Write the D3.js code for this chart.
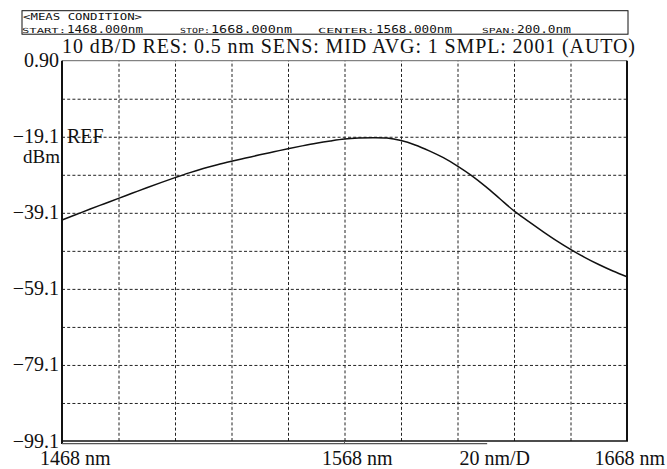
<!DOCTYPE html>
<html lang="en">
<head>
<meta charset="UTF-8">
<title>OSA trace</title>
<script src="https://d3js.org/d3.v7.min.js"></script>
<style>
  body { margin: 0; background: #fff; }
  svg { display: block; }
  .serif { font-family: "Liberation Serif", "Times New Roman", serif; fill: #111; }
  .mono { font-family: "DejaVu Sans Mono", monospace; fill: #111; }
  .grid line { stroke: #222; stroke-width: 1; stroke-dasharray: 3 2.2; }
  .grid path { display: none; }
</style>
</head>
<body>
<div class="canvas"></div>
<script>
  // wavelength (nm) and level (dBm)
  const wavelength = [1468, 1473, 1478, 1483, 1488, 1493, 1498, 1503, 1508, 1513,
    1518, 1523, 1528, 1533, 1538, 1543, 1548, 1553, 1558, 1563,
    1568, 1573, 1578, 1583, 1588, 1593, 1598, 1603, 1608, 1613,
    1618, 1623, 1628, 1633, 1638, 1643, 1648, 1653, 1658, 1663, 1668]
  const level = [-41.0, -39.55, -38.1, -36.7, -35.3, -33.9, -32.5, -31.15, -29.85, -28.6,
    -27.45, -26.45, -25.55, -24.7, -23.85, -23.05, -22.25, -21.5, -20.8, -20.2,
    -19.7, -19.45, -19.35, -19.45, -20.1, -21.25, -22.8, -24.6, -26.8, -29.3,
    -32.2, -35.4, -38.6, -41.3, -43.9, -46.4, -48.7, -50.8, -52.7, -54.4, -55.9]

  const xGrid = [1488, 1508, 1528, 1548, 1568, 1588, 1608, 1628, 1648]
  const yGrid = [-9.1, -19.1, -29.1, -39.1, -49.1, -59.1, -69.1, -79.1, -89.1]
  const yTickValues = [0.9, -19.1, -39.1, -59.1, -79.1, -99.1]
  const yTickLabels = ['0.90', '\u221219.1', '\u221239.1', '\u221259.1', '\u221279.1', '\u221299.1']
  const xLabels = [
    { v: 1468, text: '1468 nm', dx: -22, anchor: 'start' },
    { v: 1568, text: '1568 nm', dx: -22.5, anchor: 'start' },
    { v: 1628, text: '20 nm/D', dx: -54.5, anchor: 'start' },
    { v: 1668, text: '1668 nm', dx: 38, anchor: 'end' }
  ]
  const title = '10 dB/D  RES: 0.5 nm  SENS: MID  AVG: 1  SMPL: 2001 (AUTO)'
  const meas = [
    { label: 'START:', value: '1468.000nm', x: 22, lw: 44, vw: 76 },
    { label: 'STOP:', value: '1668.000nm', x: 180, lw: 30, vw: 81 },
    { label: 'CENTER:', value: '1568.000nm', x: 318, lw: 57, vw: 76 },
    { label: 'SPAN:', value: '200.0nm', x: 482, lw: 34, vw: 54 }
  ]

  const W = 667, H = 469
  const pLeft = 62, pRight = 627, pTop = 60.7, pBottom = 441

  const svg = d3.select('.canvas')
    .append('svg')
    .attr('width', W)
    .attr('height', H)

  const x = d3.scaleLinear().domain([1468, 1668]).range([pLeft, pRight])
  const y = d3.scaleLinear().domain([-99.1, 0.9]).range([pBottom, pTop])

  // header box
  svg.append('rect')
    .attr('x', 22).attr('y', 10.7)
    .attr('width', 606).attr('height', 23.5)
    .attr('fill', 'none').attr('stroke', '#111').attr('stroke-width', 1)

  svg.append('text').attr('class', 'mono')
    .attr('x', 23).attr('y', 19.5)
    .attr('font-size', 8)
    .attr('textLength', 119).attr('lengthAdjust', 'spacingAndGlyphs')
    .text('<MEAS CONDITION>')

  meas.forEach(m => {
    svg.append('text').attr('class', 'mono')
      .attr('x', m.x).attr('y', 33.3)
      .attr('font-size', 7)
      .attr('textLength', m.lw).attr('lengthAdjust', 'spacingAndGlyphs')
      .text(m.label)
    svg.append('text').attr('class', 'mono')
      .attr('x', m.x + m.lw + 1).attr('y', 33.3)
      .attr('font-size', 10.5)
      .attr('textLength', m.vw).attr('lengthAdjust', 'spacingAndGlyphs')
      .text(m.value)
  })

  // title line
  svg.append('text').attr('class', 'serif')
    .attr('x', 62).attr('y', 53.3)
    .attr('font-size', 20)
    .attr('textLength', 573).attr('lengthAdjust', 'spacing')
    .text(title)

  // grid
  svg.append('g').attr('class', 'grid')
    .attr('transform', `translate(0,${pBottom})`)
    .call(d3.axisBottom(x).tickValues(xGrid).tickSize(-(pBottom - pTop)).tickFormat(''))
  svg.append('g').attr('class', 'grid')
    .attr('transform', `translate(${pLeft},0)`)
    .call(d3.axisLeft(y).tickValues(yGrid).tickSize(-(pRight - pLeft)).tickFormat(''))

  // frame
  svg.append('line')
    .attr('x1', pLeft).attr('x2', pRight).attr('y1', pTop).attr('y2', pTop)
    .attr('stroke', '#666').attr('stroke-width', 1)
  svg.append('line')
    .attr('x1', pLeft).attr('x2', pLeft).attr('y1', pTop).attr('y2', pBottom + 3)
    .attr('stroke', '#111').attr('stroke-width', 2)
  svg.append('line')
    .attr('x1', pRight).attr('x2', pRight).attr('y1', pTop).attr('y2', pBottom)
    .attr('stroke', '#111').attr('stroke-width', 2)
  svg.append('line')
    .attr('x1', pLeft).attr('x2', pRight + 1).attr('y1', pBottom).attr('y2', pBottom)
    .attr('stroke', '#111').attr('stroke-width', 1.6)
  // lower scale bar with centre tick
  svg.append('line')
    .attr('x1', pLeft).attr('x2', x(1618.5)).attr('y1', pBottom + 2.6).attr('y2', pBottom + 2.6)
    .attr('stroke', '#555').attr('stroke-width', 1.3)
  svg.append('line')
    .attr('x1', x(1568)).attr('x2', x(1568)).attr('y1', pBottom).attr('y2', pBottom + 3)
    .attr('stroke', '#555').attr('stroke-width', 1)

  // y labels
  svg.append('g').selectAll('text')
    .data(yTickValues)
    .join('text')
    .attr('class', 'serif')
    .attr('x', 59)
    .attr('y', d => y(d) + 6.5)
    .attr('text-anchor', 'end')
    .attr('font-size', 20)
    .text((d, i) => yTickLabels[i])

  svg.append('text').attr('class', 'serif')
    .attr('x', 60).attr('y', y(-19.1) + 26.5)
    .attr('text-anchor', 'end').attr('font-size', 19)
    .text('dBm')
  svg.append('text').attr('class', 'serif')
    .attr('x', 67).attr('y', y(-19.1) + 6.5)
    .attr('font-size', 20)
    .text('REF')

  // x labels
  svg.append('g').selectAll('text')
    .data(xLabels)
    .join('text')
    .attr('class', 'serif')
    .attr('x', d => x(d.v) + d.dx)
    .attr('y', 465)
    .attr('text-anchor', d => d.anchor)
    .attr('font-size', 20)
    .text(d => d.text)

  // trace
  const pts = wavelength.map((w, i) => [w, level[i]])
  const line = d3.line()
    .x(d => x(d[0]))
    .y(d => y(d[1]))
    .curve(d3.curveCatmullRom.alpha(0.5))

  svg.append('path')
    .datum(pts)
    .attr('fill', 'none')
    .attr('stroke', '#111')
    .attr('stroke-width', 1.5)
    .attr('d', line)
</script>
</body>
</html>
